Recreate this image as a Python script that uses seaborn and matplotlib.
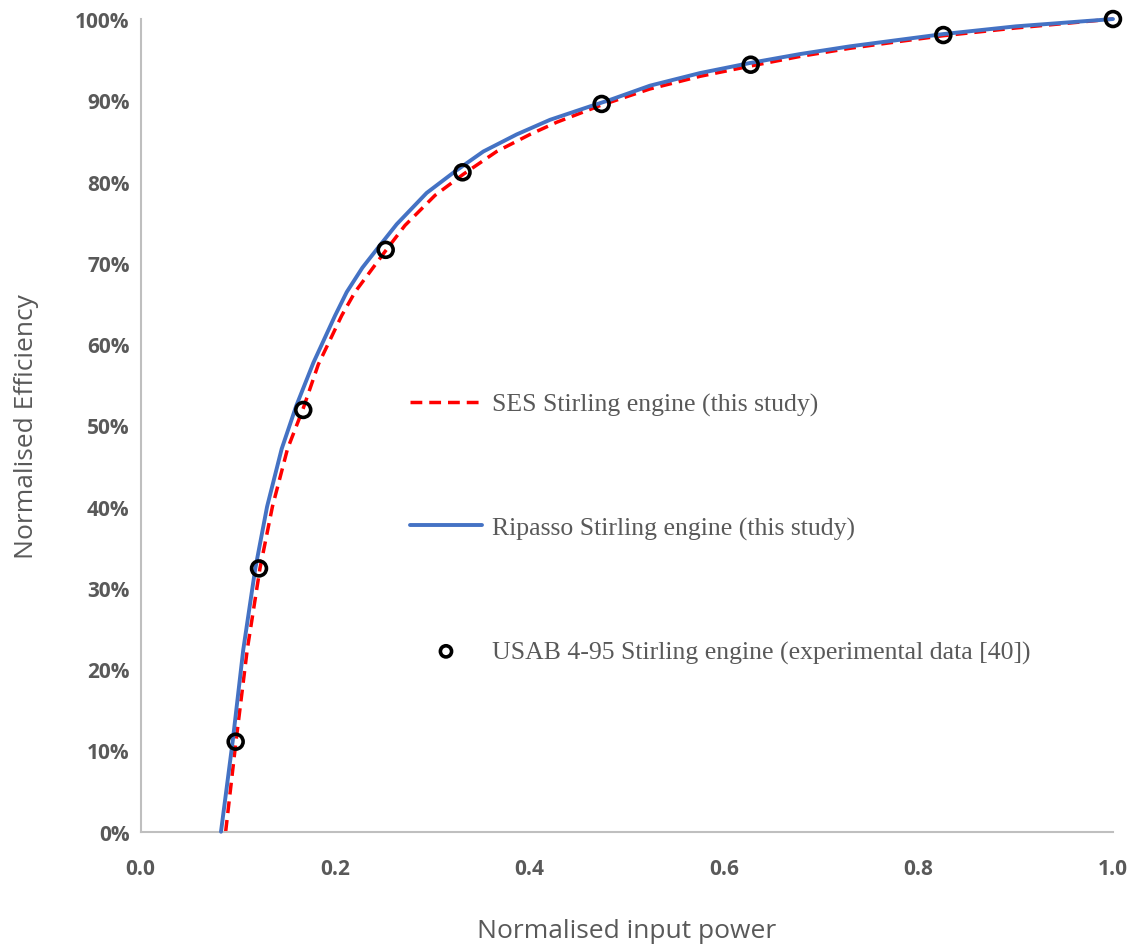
import matplotlib
matplotlib.use("Agg")
import matplotlib.pyplot as plt
import seaborn as sns
import pandas as pd
from matplotlib.ticker import PercentFormatter

# ---- data ----
ses_x = [0.0874, 0.098, 0.1096, 0.1227, 0.1355, 0.151, 0.1672, 0.1827, 0.2067,
         0.2204, 0.252, 0.2718, 0.3027, 0.3318, 0.3661, 0.4004, 0.4279, 0.4724,
         0.5238, 0.5752, 0.6266, 0.6781, 0.7295, 0.7809, 0.8255, 0.9, 1.0]
ses_y = [0.0, 0.111, 0.224, 0.324, 0.40, 0.471, 0.521, 0.575, 0.635,
         0.664, 0.715, 0.746, 0.783, 0.809, 0.837, 0.858, 0.873, 0.8935,
         0.914, 0.9295, 0.942, 0.954, 0.964, 0.9725, 0.9795, 0.989, 1.0]

rip_x = [0.0826, 0.0946, 0.1055, 0.1179, 0.1300, 0.145, 0.160, 0.1776, 0.1999,
         0.2119, 0.228, 0.2444, 0.2633, 0.2941, 0.3233, 0.3524, 0.3867, 0.421,
         0.4621, 0.4827, 0.5238, 0.5752, 0.6266, 0.6781, 0.7295, 0.7809, 0.8255,
         0.9, 1.0]
rip_y = [0.0, 0.111, 0.224, 0.324, 0.40, 0.471, 0.524, 0.577, 0.635,
         0.664, 0.694, 0.719, 0.7475, 0.786, 0.8125, 0.837, 0.858, 0.876,
         0.8925, 0.9005, 0.918, 0.9335, 0.9459, 0.9569, 0.9664, 0.9745, 0.9815,
         0.991, 1.0]

usab_x = [0.0977, 0.1217, 0.1672, 0.252, 0.331, 0.4741, 0.6274, 0.8255, 1.0]
usab_y = [0.1108, 0.324, 0.519, 0.716, 0.8114, 0.8955, 0.9438, 0.9803, 1.0]

labels = ["SES Stirling engine (this study)",
          "Ripasso Stirling engine (this study)",
          "USAB 4-95 Stirling engine (experimental data [40])"]
x_ticks = [0.0, 0.2, 0.4, 0.6, 0.8, 1.0]
y_ticks = [0.0, 0.1, 0.2, 0.3, 0.4, 0.5, 0.6, 0.7, 0.8, 0.9, 1.0]

sns.set_theme(style="white")
plt.rcParams["font.family"] = ["Open Sans", "DejaVu Sans"]

fig = plt.figure(figsize=(11.4, 9.45), dpi=100)
ax = fig.add_axes([0.1234, 0.1188, 0.8529, 0.86])

ses = pd.DataFrame({"x": ses_x, "y": ses_y})
rip = pd.DataFrame({"x": rip_x, "y": rip_y})
usab = pd.DataFrame({"x": usab_x, "y": usab_y})

sns.lineplot(data=ses, x="x", y="y", ax=ax, sort=False, estimator=None,
             color="#FF0000", linewidth=2.5, linestyle=(0, (3.4, 2.0)),
             label=labels[0], zorder=2, clip_on=False)
sns.lineplot(data=rip, x="x", y="y", ax=ax, sort=False, estimator=None,
             color="#4472C4", linewidth=2.8, label=labels[1], zorder=3,
             clip_on=False)
sns.scatterplot(data=usab, x="x", y="y", ax=ax, marker="o", s=115,
                facecolors="none", edgecolor="black", linewidth=2.6,
                label=labels[2], zorder=4, clip_on=False)

ax.set_xlim(0, 1.0)
ax.set_ylim(0, 1.0)
ax.set_xticks(x_ticks)
ax.set_yticks(y_ticks)
ax.set_xticklabels([f"{t:.1f}" for t in x_ticks])
ax.yaxis.set_major_formatter(PercentFormatter(1.0, decimals=0))
ax.tick_params(axis="both", length=0, labelsize=15, labelcolor="#595959")
ax.tick_params(axis="x", pad=19)
ax.tick_params(axis="y", pad=8)
for lab in ax.get_xticklabels() + ax.get_yticklabels():
    lab.set_fontweight("bold")

ax.set_xlabel("Normalised input power", fontsize=19, color="#595959", labelpad=28)
ax.set_ylabel("Normalised Efficiency", fontsize=19, color="#595959", labelpad=26)

for side in ["top", "right"]:
    ax.spines[side].set_visible(False)
for side in ["left", "bottom"]:
    ax.spines[side].set_color("#BFBFBF")
    ax.spines[side].set_linewidth(1.5)
ax.grid(False)

leg = ax.legend(loc="center left", bbox_to_anchor=(0.277, 0.3735), frameon=False,
                prop={"family": "Liberation Serif", "size": 18.5},
                labelspacing=3.9, handlelength=2.8, handletextpad=0.4,
                borderpad=0, borderaxespad=0, markerscale=0.75)
for t in leg.get_texts():
    t.set_color("#595959")

fig.savefig("out.png", dpi=100)
